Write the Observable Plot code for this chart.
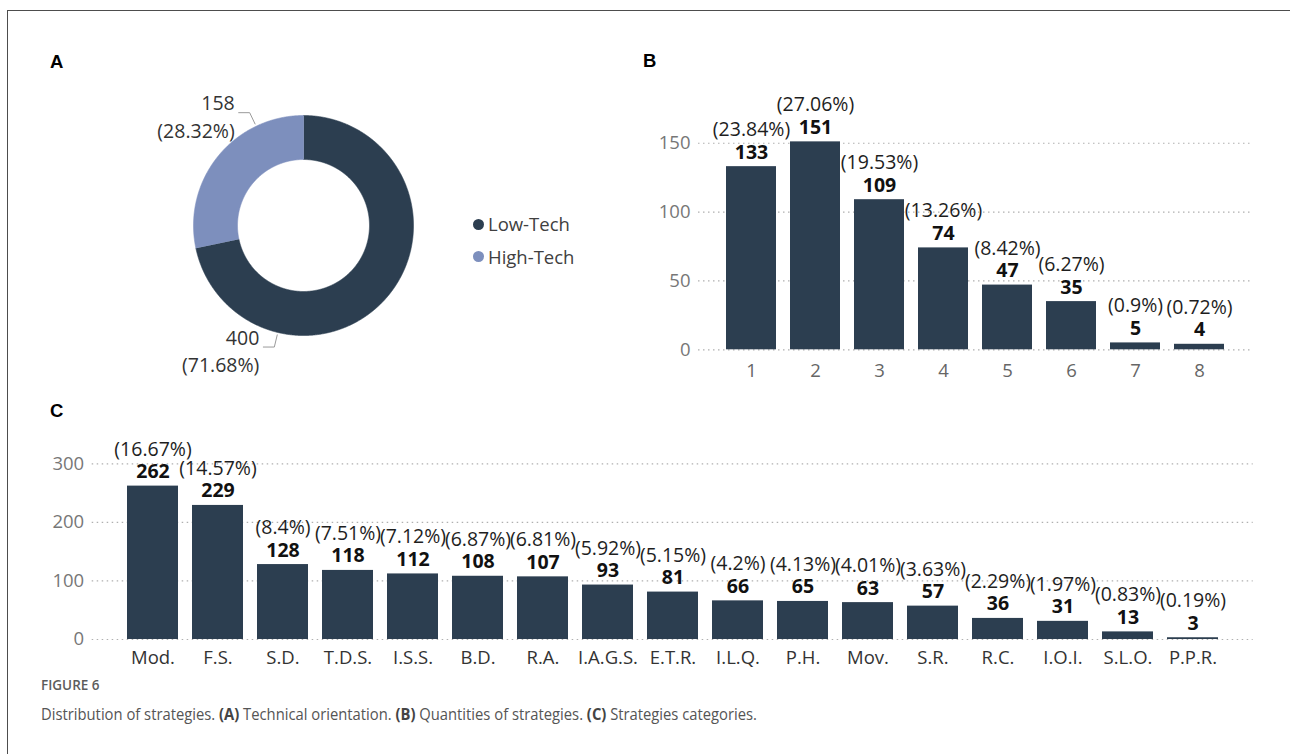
<!DOCTYPE html>
<html>
<head>
<meta charset="utf-8">
<script src="https://cdn.jsdelivr.net/npm/d3@7"></script>
<script src="https://cdn.jsdelivr.net/npm/@observablehq/plot@0.6"></script>
<style>
  html, body { margin: 0; padding: 0; background: #fff; }
  #root { position: relative; width: 1290px; height: 754px; overflow: hidden; font-family: "Open Sans", sans-serif; }
  .frame { position: absolute; left: 7px; top: 10px; width: 1300px; height: 760px; border-top: 1.5px solid #4d4d4d; border-left: 1.5px solid #4d4d4d; }
  .panel { position: absolute; font-family: "Liberation Sans", Arial, sans-serif; font-weight: bold; font-size: 18.5px; line-height: 1; color: #000; }
  .chart { position: absolute; }
  .chart svg { overflow: visible; display: block; }
  .legend { position: absolute; font-size: 18.5px; line-height: 1; color: #404040; white-space: nowrap; }
  .dot { position: absolute; width: 11px; height: 11px; border-radius: 50%; }
  .figlabel { position: absolute; left: 41px; top: 679px; font-size: 13.5px; line-height: 1; font-weight: 600; color: #5c5c5c; white-space: nowrap; }
  .caption { position: absolute; left: 41px; top: 706px; font-size: 16.5px; line-height: 1; color: #555; white-space: nowrap; transform-origin: 0 0; }
  .caption b { font-weight: 700; color: #444; }
</style>
</head>
<body>
<div id="root">
  <div class="frame"></div>
  <div class="panel" style="left:50px;top:52.6px">A</div>
  <div class="panel" style="left:643px;top:52.3px">B</div>
  <div class="panel" style="left:50px;top:402.3px">C</div>
  <div id="donut" class="chart" style="left:140px;top:80px"></div>
  <div id="legend"></div>
  <div id="chartB" class="chart" style="left:620px;top:40px"></div>
  <div id="chartC" class="chart" style="left:0px;top:400px"></div>
  <div class="figlabel">FIGURE 6</div>
  <div class="caption" id="caption">Distribution of strategies. <b>(A)</b> Technical orientation. <b>(B)</b> Quantities of strategies. <b>(C)</b> Strategies categories.</div>
</div>
<script>
// ---------- data ----------
const techNames = ["Low-Tech", "High-Tech"];
const techValues = [400, 158];
const techPct = [71.68, 28.32];
const techColors = ["#2c3e50", "#7d8fbd"];
const techLabelAngle = [193.5, 334.5]; // leader direction (degrees clockwise from top)

const qtyLabels = ["1", "2", "3", "4", "5", "6", "7", "8"];
const qtyValues = [133, 151, 109, 74, 47, 35, 5, 4];
const qtyPct = [23.84, 27.06, 19.53, 13.26, 8.42, 6.27, 0.9, 0.72];
const qtyTicks = [0, 50, 100, 150];

const catLabels = ["Mod.", "F.S.", "S.D.", "T.D.S.", "I.S.S.", "B.D.", "R.A.", "I.A.G.S.", "E.T.R.", "I.L.Q.", "P.H.", "Mov.", "S.R.", "R.C.", "I.O.I.", "S.L.O.", "P.P.R."];
const catValues = [262, 229, 128, 118, 112, 108, 107, 93, 81, 66, 65, 63, 57, 36, 31, 13, 3];
const catPct = [16.67, 14.57, 8.4, 7.51, 7.12, 6.87, 6.81, 5.92, 5.15, 4.2, 4.13, 4.01, 3.63, 2.29, 1.97, 0.83, 0.19];
const catTicks = [0, 100, 200, 300];

const barColor = "#2c3e50";
const fontStack = '"Open Sans", sans-serif';

// ---------- donut (A) ----------
(function () {
  const R = 110, r0 = 66;
  const techData = techNames.map((name, i) => ({name, value: techValues[i], pct: techPct[i], color: techColors[i], angle: techLabelAngle[i]}));
  const arcs = d3.pie().sort(null).value(d => d.value)(techData);
  const marks = [];
  arcs.forEach(a => {
    const n = Math.max(2, Math.ceil((a.endAngle - a.startAngle) / 0.005));
    const pts = [];
    for (let k = 0; k <= n; k++) {
      const t = a.startAngle + (a.endAngle - a.startAngle) * k / n;
      pts.push({x: R * Math.sin(t), y: R * Math.cos(t)});
    }
    for (let k = n; k >= 0; k--) {
      const t = a.startAngle + (a.endAngle - a.startAngle) * k / n;
      pts.push({x: r0 * Math.sin(t), y: r0 * Math.cos(t)});
    }
    marks.push(Plot.line(pts, {x: "x", y: "y", fill: a.data.color, stroke: a.data.color, strokeWidth: 0.6, curve: "linear"}));
  });
  // leader lines and labels
  const leaders = [];
  const labels = [];
  techData.forEach(d => {
    const t = d.angle * Math.PI / 180;
    const p1 = {x: (R + 2.5) * Math.sin(t), y: (R + 2.5) * Math.cos(t)};
    const p2 = {x: (R + 15) * Math.sin(t), y: (R + 15) * Math.cos(t)};
    const p3 = {x: p2.x - 11, y: p2.y};
    leaders.push([p1, p2, p3]);
    labels.push({x: p3.x, y: p3.y, text: `${d.value}\n(${d.pct}%)`});
  });
  leaders.forEach(l => marks.push(Plot.line(l, {x: "x", y: "y", stroke: "#9a9a9a", strokeWidth: 1})));
  marks.push(Plot.text(labels, {x: "x", y: "y", text: "text", textAnchor: "end", lineAnchor: "middle", lineHeight: 1.4, dx: -4, dy: 2.5, fontSize: 19.5, fill: "#333"}));

  const chart = Plot.plot({
    width: 460, height: 300,
    marginTop: 0, marginRight: 0, marginBottom: 0, marginLeft: 0,
    style: {fontFamily: fontStack, background: "transparent", overflow: "visible"},
    x: {domain: [-163, 297], axis: null},
    y: {domain: [-155, 145], axis: null},
    marks
  });
  document.getElementById("donut").appendChild(chart);

  // legend
  const legendTops = [215.3, 247.6];
  const lg = document.getElementById("legend");
  techData.forEach((d, i) => {
    const dot = document.createElement("div");
    dot.className = "dot";
    dot.style.background = d.color;
    dot.style.left = "472.8px";
    dot.style.top = (legendTops[i] + 3.5) + "px";
    lg.appendChild(dot);
    const tx = document.createElement("div");
    tx.className = "legend";
    tx.style.left = "488px";
    tx.style.top = legendTops[i] + "px";
    tx.textContent = d.name;
    lg.appendChild(tx);
  });
})();

// ---------- bar charts (B, C) ----------
function barChart({labels, values, pct, ticks, yMax, width, height, margins, xColor, tickPad}) {
  const data = labels.map((l, i) => ({label: l, value: values[i], pct: pct[i]}));
  return Plot.plot({
    width, height,
    marginTop: margins[0], marginRight: margins[1], marginBottom: margins[2], marginLeft: margins[3],
    style: {fontFamily: fontStack, fontSize: "18.5px", background: "transparent", overflow: "visible"},
    x: {domain: labels, paddingInner: 0.22, paddingOuter: 0.42, label: null},
    y: {domain: [0, yMax], label: null},
    marks: [
      Plot.gridY({ticks, stroke: "#b0b0b0", strokeOpacity: 1, strokeDasharray: "1.5,3.5", strokeWidth: 1.2}),
      Plot.barY(data, {x: "label", y: "value", fill: barColor}),
      Plot.axisY({ticks, tickSize: 0, tickPadding: 8, color: "#777", label: null}),
      Plot.axisX({tickSize: 0, tickPadding: tickPad, color: xColor, label: null}),
      Plot.text(data, {x: "label", y: "value", text: d => `(${d.pct}%)`, lineAnchor: "bottom", dy: -30.5, fontSize: 19.5, fill: "#1e1e1e"}),
      Plot.text(data, {x: "label", y: "value", text: d => String(d.value), lineAnchor: "bottom", dy: -8, fontSize: 19.5, fontWeight: "bold", fill: "#111"})
    ]
  });
}

document.getElementById("chartB").appendChild(barChart({
  labels: qtyLabels, values: qtyValues, pct: qtyPct, ticks: qtyTicks, yMax: 170,
  width: 650, height: 350, margins: [75.2, 18, 40.7, 78], xColor: "#666", tickPad: 14
}));

document.getElementById("chartC").appendChild(barChart({
  labels: catLabels, values: catValues, pct: catPct, ticks: catTicks, yMax: 330,
  width: 1290, height: 280, margins: [45.8, 37.3, 41, 91.7], xColor: "#333", tickPad: 11
}));

// caption width fit
(function () {
  const c = document.getElementById("caption");
  const w = c.getBoundingClientRect().width;
  const target = 716;
  if (w > 0) c.style.transform = `scaleX(${Math.min(1, target / w)})`;
})();
</script>
</body>
</html>
